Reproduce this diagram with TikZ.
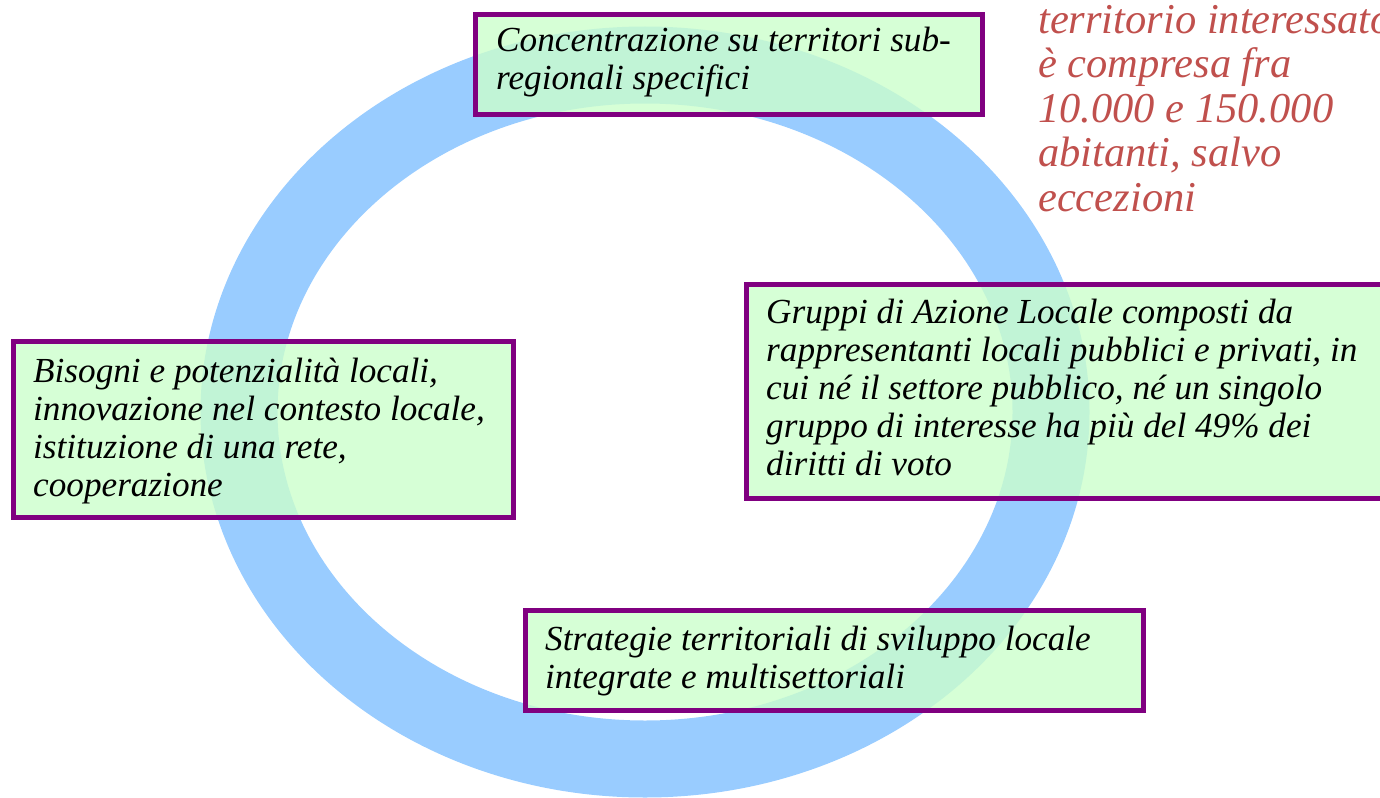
\documentclass[tikz,border=0pt]{standalone}
\usepackage{fontspec}
\setmainfont{Liberation Serif}
\definecolor{ringblue}{HTML}{99CCFF}
\definecolor{boxfill}{HTML}{CCFFCC}
\definecolor{boxline}{HTML}{800080}
\definecolor{redtext}{HTML}{C0504D}
\tikzset{
  panel/.style={draw=boxline, line width=5pt, fill=boxfill, fill opacity=0.8},
  txt/.style={anchor=north west, inner sep=0pt, align=left, text=black,
    font=\fontsize{35.2}{38}\selectfont\itshape},
  redtxt/.style={anchor=north west, inner sep=0pt, align=left, text=redtext,
    font=\fontsize{42.5}{44.5}\selectfont\itshape}
}
\begin{document}
\begin{tikzpicture}[x=1pt,y=-1pt]
\useasboundingbox (0,0) rectangle (1380,797);
\clip (0,0) rectangle (1380,797);
\draw[ringblue, line width=77pt] (645,412) ellipse [x radius=406, y radius=347];
% boxes
\draw[panel] (475.5,14.5) rectangle (982.5,114.5);
\draw[panel] (13.5,341.5) rectangle (513.5,517.5);
\draw[panel] (746.5,284.5) rectangle (1400,498.5);
\draw[panel] (525.5,610.5) rectangle (1143.5,710.5);
% texts
\node[txt] (top) at (496,24.4) {\strut Concentrazione su territori sub-\\regionali specifici};
\node[txt] (left) at (33,355.4) {\strut Bisogni e potenzialità locali,\\innovazione nel contesto locale,\\istituzione di una rete,\\cooperazione};
\node[txt] (right) at (766,296.4) {\strut Gruppi di Azione Locale composti da\\rappresentanti locali pubblici e privati, in\\cui né il settore pubblico, né un singolo\\gruppo di interesse ha più del 49\% dei\\diritti di voto};
\node[txt] (bottom) at (545,623.4) {\strut Strategie territoriali di sviluppo locale\\integrate e multisettoriali};
\node[redtxt] (note) at (1038,1.85) {\strut territorio interessato\\è compresa fra\\10.000 e 150.000\\abitanti, salvo\\eccezioni};
\end{tikzpicture}
\end{document}
